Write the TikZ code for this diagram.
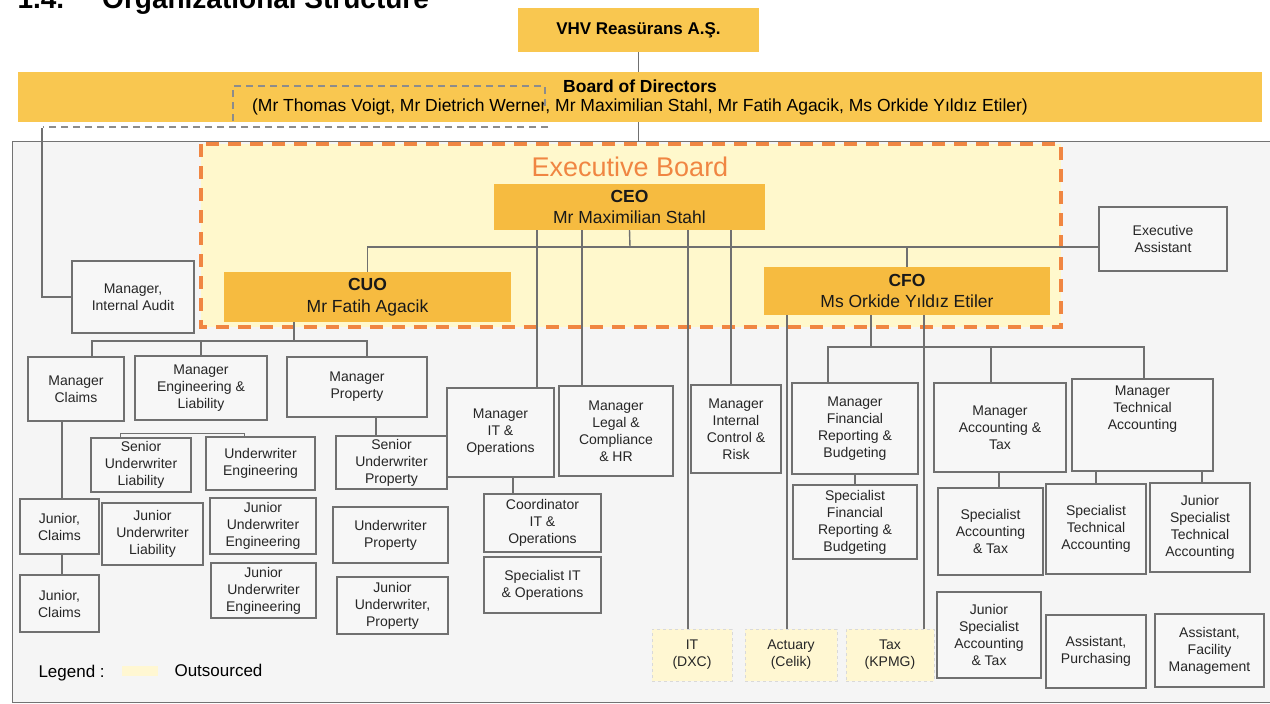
\documentclass[tikz,border=0pt]{standalone}
\usepackage{fontspec}
\setmainfont{Liberation Sans}

\definecolor{gold}{RGB}{249,199,80}
\definecolor{deepgold}{RGB}{246,187,64}
\definecolor{execfill}{RGB}{255,248,204}
\definecolor{execline}{RGB}{240,134,66}
\definecolor{outfill}{RGB}{255,247,210}
\definecolor{linegray}{RGB}{112,112,112}
\definecolor{framefill}{RGB}{245,245,245}

\begin{document}
\begin{tikzpicture}[x=1pt,y=-1pt,
    staffbox/.style={draw=linegray, line width=1.1pt, fill=white!97!black, align=center,
      inner sep=0pt, text=black!85, font=\fontsize{14}{17}\selectfont},
    outbox/.style={staffbox, draw=black!15, dashed, fill=outfill, line width=0.8pt},
    chiefbox/.style={fill=deepgold, align=center, inner sep=0pt, text=black!90,
      font=\fontsize{17.5}{21.5}\selectfont},
    sz/.style 2 args={minimum width=#1pt, minimum height=#2pt},
    wire/.style={draw=linegray, line width=1.4pt},
    grpdash/.style={draw=black!45, line width=1.6pt, dash pattern=on 7pt off 5pt},
  ]
  \useasboundingbox (0,0) rectangle (1270,704);
  \clip (0,0) rectangle (1270,704);
  \fill[white] (0,0) rectangle (1270,704);

  % heading, cut at the top edge
  \node[anchor=base west, font=\bfseries\fontsize{28}{32}\selectfont] (title) at (14,9)
    {1.4.\hspace{38pt}Organizational Structure};

  % frame and executive board area
  \node[draw=black!55, line width=1pt, fill=framefill, sz={1280}{561}, inner sep=0pt] (frame) at (652,421.5) {};
  \draw[execline, fill=execfill, line width=3.5pt, dash pattern=on 13pt off 9pt] (201,144) rectangle (1061,327);
  \node[text=execline, font=\fontsize{27}{30}\selectfont] (exectitle) at (630,167) {Executive Board};

  % top of the chart
  \node[fill=gold, sz={241}{44}, inner sep=0pt, font=\bfseries\fontsize{17}{20}\selectfont] (vhv) at (638.5,30) {VHV Reasürans A.Ş.};
  \node[fill=gold, sz={1244}{50}, inner sep=0pt, align=center, font=\fontsize{17.5}{19}\selectfont] (board) at (640,97)
    {\textbf{Board of Directors}\\(Mr Thomas Voigt, Mr Dietrich Werner, Mr Maximilian Stahl, Mr Fatih Agacik, Ms Orkide Yıldız Etiler)};
  \draw[grpdash] (233,121) -- (233,86) -- (545,86) -- (545,107);
  \draw[grpdash] (548,127) -- (43,127);
  \coordinate (auditlink) at (42,128);

  % executive board
  \node[chiefbox, sz={271}{46}] (ceo) at (629.5,207) {\textbf{CEO}\\Mr Maximilian Stahl};
  \node[chiefbox, sz={287}{50}] (cuo) at (367.5,297) {\textbf{CUO}\\Mr Fatih Agacik};
  \node[chiefbox, sz={286}{48}] (cfo) at (907,291) {\textbf{CFO}\\Ms Orkide Yıldız Etiler};
  \node[staffbox, sz={128}{64}] (execassist) at (1163,239) {Executive\\Assistant};
  \node[staffbox, sz={122}{72}] (miaudit) at (133,297) {Manager,\\Internal Audit};

  % managers
  \node[staffbox, sz={96}{64}] (mclaims) at (76,389) {Manager\\Claims};
  \node[staffbox, sz={132}{64}] (mengliab) at (201,388) {Manager\\Engineering \&\\Liability};
  \node[staffbox, sz={140}{60}] (mprop) at (357,387) {Manager\\Property};
  \node[staffbox, sz={107}{89}] (mitops) at (500.5,432.5) {Manager\\IT \&\\Operations};
  \node[staffbox, sz={114}{90}] (mlegal) at (616,431) {Manager\\Legal \&\\Compliance\\\& HR};
  \node[staffbox, sz={90}{88}] (mictrl) at (736,429) {Manager\\Internal\\Control \&\\Risk};
  \node[staffbox, sz={126}{91}] (mfinrep) at (855,428.5) {Manager\\Financial\\Reporting \&\\Budgeting};
  \node[staffbox, sz={132}{89}] (macctax) at (1000,427.5) {Manager\\Accounting \&\\Tax};
  \node[staffbox, sz={141}{92}] (mtechacc) at (1142.5,425) {Manager\\Technical\\Accounting\\[17pt]};

  % underwriting and claims staff
  \node[staffbox, sz={100}{54}] (suwliab) at (141,465) {Senior\\Underwriter\\Liability};
  \node[staffbox, sz={109}{53}] (uweng) at (260.5,463.5) {Underwriter\\Engineering};
  \node[staffbox, sz={111}{53}] (suwprop) at (391.5,462.5) {Senior\\Underwriter\\Property};
  \node[staffbox, sz={79}{55}] (jclaims1) at (59.5,526.5) {Junior,\\Claims};
  \node[staffbox, sz={79}{57}] (jclaims2) at (59.5,603.5) {Junior,\\Claims};
  \node[staffbox, sz={101}{62}] (juwliab) at (152.5,534) {Junior\\Underwriter\\Liability};
  \node[staffbox, sz={106}{56}] (juweng1) at (263,526) {Junior\\Underwriter\\Engineering};
  \node[staffbox, sz={105}{55}] (juweng2) at (263.5,590.5) {Junior\\Underwriter\\Engineering};
  \node[staffbox, sz={115}{56}] (uwprop) at (390.5,535) {Underwriter\\Property};
  \node[staffbox, sz={111}{57}] (juwprop) at (392.5,605.5) {Junior\\Underwriter,\\Property};
  \node[staffbox, sz={117}{58}] (coordit) at (542.5,523) {Coordinator\\IT \&\\Operations};
  \node[staffbox, sz={117}{56}] (specit) at (542.5,585) {Specialist IT\\\& Operations};

  % finance staff
  \node[staffbox, sz={124}{74}] (sfinrep) at (855,522) {Specialist\\Financial\\Reporting \&\\Budgeting};
  \node[staffbox, sz={105}{87}] (sacctax) at (990.5,531.5) {Specialist\\Accounting\\\& Tax};
  \node[staffbox, sz={100}{90}] (stechacc) at (1096,529) {Specialist\\Technical\\Accounting};
  \node[staffbox, sz={100}{89}] (jstechacc) at (1200,527.5) {Junior\\Specialist\\Technical\\Accounting};
  \node[staffbox, sz={104}{86}] (jsacctax) at (989,635) {Junior\\Specialist\\Accounting\\\& Tax};
  \node[staffbox, sz={100}{73}] (asspurch) at (1096,651.5) {Assistant,\\Purchasing};
  \node[staffbox, sz={109}{73}] (assfac) at (1209.5,650.5) {Assistant,\\Facility\\Management};

  % outsourced
  \node[outbox, sz={80}{52}] (itdxc) at (692,655) {IT\\(DXC)};
  \node[outbox, sz={92}{52}] (actuary) at (791,655) {Actuary\\(Celik)};
  \node[outbox, sz={88}{52}] (taxkpmg) at (890,655) {Tax\\(KPMG)};

  % legend
  \node[anchor=base west, font=\fontsize{17}{20}\selectfont] (legend) at (35,677) {Legend :};
  \node[fill=outfill, sz={36}{10}, inner sep=0pt] (swatch) at (140,671) {};
  \node[anchor=base west, font=\fontsize{17}{20}\selectfont] (outlabel) at (171,676) {Outsourced};

  % connectors
  \draw[wire] (vhv.south) -- (vhv.south |- board.north);
  \draw[wire] (vhv.south |- board.south) -- (vhv.south |- frame.north);
  \draw[wire] (auditlink) |- (miaudit.west);

  \coordinate (ceobus) at (630,247);
  \draw[wire] (ceo.south) -- (ceobus);
  \draw[wire] (cuo.north) |- (execassist.west |- ceobus);
  \draw[wire] (cfo.north) -- (cfo.north |- ceobus);
  \draw[wire] (537,0 |- ceo.south) -- (537,0 |- mitops.north);
  \draw[wire] (582,0 |- ceo.south) -- (582,0 |- mlegal.north);
  \draw[wire] (688,0 |- ceo.south) -- (688,0 |- itdxc.north);
  \draw[wire] (731,0 |- ceo.south) -- (731,0 |- mictrl.north);

  \coordinate (cuobus) at (294,341);
  \draw[wire] (cuo.south -| cuobus) -- (cuobus);
  \draw[wire] (92,0 |- mclaims.north) |- (367,0 |- cuobus) -- (367,0 |- mprop.north);
  \draw[wire] (mengliab.north) -- (mengliab.north |- cuobus);
  \draw[wire] (62,0 |- mclaims.south) -- (62,0 |- jclaims1.north);
  \draw[wire] (62,0 |- jclaims1.south) -- (62,0 |- jclaims2.north);
  \draw[wire, line width=1pt] (120,0 |- suwliab.north) -- (120,433) -- (244,433) -- (244,0 |- uweng.north);
  \draw[wire] (376,0 |- mprop.south) -- (376,0 |- suwprop.north);
  \draw[wire] (513,0 |- mitops.south) -- (513,0 |- coordit.north);

  \coordinate (finbus) at (871,347);
  \draw[wire] (cfo.south -| finbus) -- (finbus);
  \draw[wire] (828,0 |- mfinrep.north) |- (1144,0 |- finbus) -- (1144,0 |- mtechacc.north);
  \draw[wire] (991,0 |- finbus) -- (991,0 |- macctax.north);
  \draw[wire] (787,0 |- cfo.south) -- (787,0 |- actuary.north);
  \draw[wire] (924,0 |- cfo.south) -- (924,0 |- taxkpmg.north);
  \draw[wire] (mfinrep.south) -- (sfinrep.north);
  \draw[wire] (999,0 |- macctax.south) -- (999,0 |- sacctax.north);
  \draw[wire] (stechacc.north |- mtechacc.south) -- (stechacc.north);
  \draw[wire] (1202,0 |- mtechacc.south) -- (1202,0 |- jstechacc.north);
\end{tikzpicture}
\end{document}
